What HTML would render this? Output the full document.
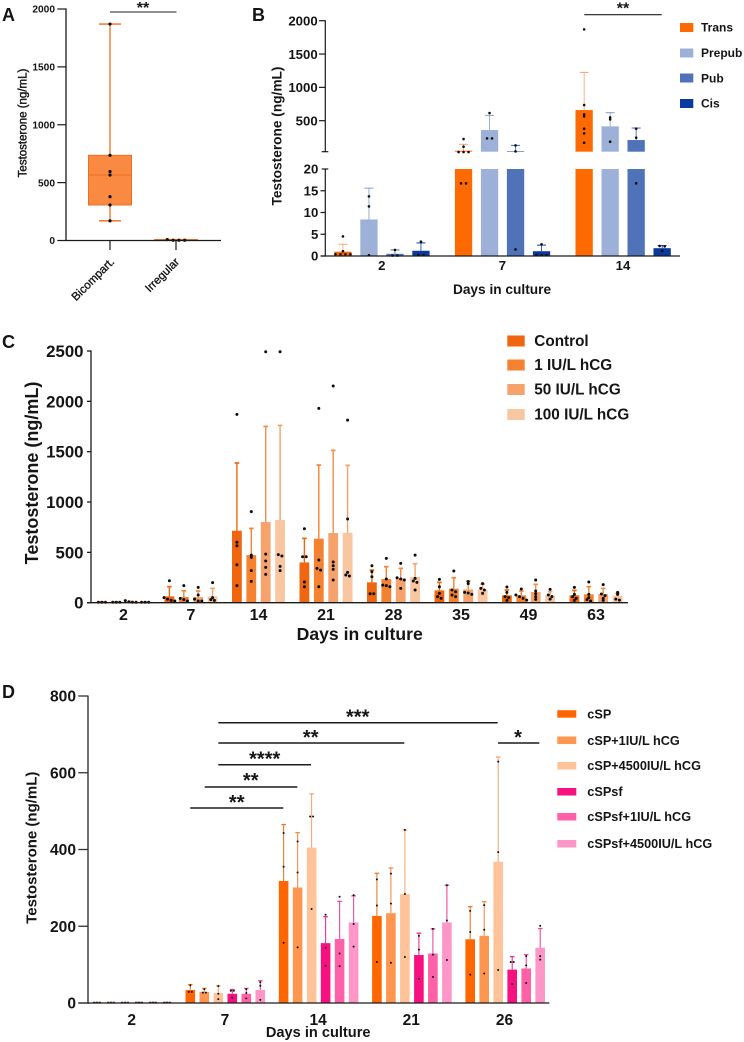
<!DOCTYPE html>
<html lang="en">
<head>
<meta charset="utf-8">
<title>Testosterone production panels</title>
<style>
html,body{margin:0;padding:0;background:#fff}
svg{display:block;font-family:"Liberation Sans",sans-serif}
text{fill:#151515}
.b{font-weight:700}
.sig{stroke:#1c1c1c;fill:none}
</style>
</head>
<body>
<svg id="fig" xmlns="http://www.w3.org/2000/svg" width="744" height="1042" viewBox="0 0 744 1042">
<rect x="0" y="0" width="744" height="1042" fill="#fff"/>

<g id="panelA">
<text class="b" x="2" y="21" font-size="18">A</text>
<text transform="translate(26.5,123) rotate(-90)" text-anchor="middle" font-size="11.5" stroke="#151515" stroke-width="0.4">Testosterone (ng/mL)</text>
<line class="sig" x1="110" y1="12" x2="176.5" y2="12" stroke-width="1"/>
<text class="b" x="143" y="13" text-anchor="middle" font-size="16">**</text>
</g>

<g id="panelB">
<text class="b" x="252" y="21" font-size="18">B</text>
<text class="b" transform="translate(281.5,136) rotate(-90)" text-anchor="middle" font-size="13.7">Testosterone (ng/mL)</text>
<text class="b" x="502" y="294" text-anchor="middle" font-size="13.7">Days in culture</text>
<line class="sig" x1="584.3" y1="14.7" x2="661.7" y2="14.7" stroke-width="1.1"/>
<text class="b" x="623" y="13.5" text-anchor="middle" font-size="16">**</text>
<rect x="680" y="23" width="13.3" height="9" fill="#FF6A00"/>
<text class="b" x="701" y="31.5" font-size="12">Trans</text>
<rect x="680" y="48.5" width="13.3" height="9" fill="#9DB0D8"/>
<text class="b" x="701" y="57" font-size="12">Prepub</text>
<rect x="680" y="73.5" width="13.3" height="9" fill="#4F72B8"/>
<text class="b" x="701" y="82.5" font-size="12">Pub</text>
<rect x="680" y="99" width="13.3" height="9" fill="#0A3A9E"/>
<text class="b" x="701" y="107.5" font-size="12">Cis</text>
</g>

<g id="panelC">
<text class="b" x="2" y="348" font-size="18">C</text>
<text class="b" transform="translate(38,473) rotate(-90)" text-anchor="middle" font-size="18">Testosterone (ng/mL)</text>
<text class="b" x="359.7" y="640" text-anchor="middle" font-size="17.6">Days in culture</text>
<rect x="507.3" y="335.5" width="17.4" height="11" fill="#F0650F"/>
<text class="b" x="534.3" y="346" font-size="15.3">Control</text>
<rect x="507.3" y="359.5" width="17.4" height="11" fill="#F58230"/>
<text class="b" x="534.3" y="370" font-size="15.3">1 IU/L hCG</text>
<rect x="507.3" y="384" width="17.4" height="11" fill="#F6A26C"/>
<text class="b" x="534.3" y="394.5" font-size="15.3">50 IU/L hCG</text>
<rect x="507.3" y="409" width="17.4" height="11" fill="#F9C6A2"/>
<text class="b" x="534.3" y="419.5" font-size="15.3">100 IU/L hCG</text>
</g>

<g id="panelD">
<text class="b" x="2" y="698" font-size="18">D</text>
<text class="b" transform="translate(36.5,847.7) rotate(-90)" text-anchor="middle" font-size="15">Testosterone (ng/mL)</text>
<text class="b" x="318.2" y="1037" text-anchor="middle" font-size="14.6">Days in culture</text>
<line class="sig" x1="218.3" y1="722.7" x2="497.7" y2="722.7" stroke-width="1.5"/>
<text class="b" x="357.7" y="723.5" text-anchor="middle" font-size="20">***</text>
<line class="sig" x1="218.3" y1="743" x2="404.3" y2="743" stroke-width="1.5"/>
<text class="b" x="310.7" y="744.2" text-anchor="middle" font-size="20">**</text>
<line class="sig" x1="498" y1="743" x2="539.3" y2="743" stroke-width="1.5"/>
<text class="b" x="518" y="744.2" text-anchor="middle" font-size="20">*</text>
<line class="sig" x1="218.3" y1="764.7" x2="311" y2="764.7" stroke-width="1.5"/>
<text class="b" x="264.7" y="765.5" text-anchor="middle" font-size="20">****</text>
<line class="sig" x1="204.7" y1="787" x2="297.3" y2="787" stroke-width="1.5"/>
<text class="b" x="250.7" y="787.2" text-anchor="middle" font-size="20">**</text>
<line class="sig" x1="190.3" y1="808" x2="283.3" y2="808" stroke-width="1.5"/>
<text class="b" x="236.7" y="808.9" text-anchor="middle" font-size="20">**</text>
<rect x="557.3" y="710.2" width="19" height="7.5" fill="#FF6600"/>
<text class="b" x="587.3" y="718.5" font-size="12.7">cSP</text>
<rect x="557.3" y="736.5" width="19" height="7.5" fill="#FF9650"/>
<text class="b" x="587.3" y="744.8" font-size="12.7">cSP+1IU/L hCG</text>
<rect x="557.3" y="762" width="19" height="7.5" fill="#FFC39A"/>
<text class="b" x="587.3" y="770.2" font-size="12.7">cSP+4500IU/L hCG</text>
<rect x="557.3" y="788" width="19" height="7.5" fill="#F7107F"/>
<text class="b" x="587.3" y="796.2" font-size="12.7">cSPsf</text>
<rect x="557.3" y="813" width="19" height="7.5" fill="#FF61A8"/>
<text class="b" x="587.3" y="821.2" font-size="12.7">cSPsf+1IU/L hCG</text>
<rect x="557.3" y="840" width="19" height="7.5" fill="#FF96C8"/>
<text class="b" x="587.3" y="848.2" font-size="12.7">cSPsf+4500IU/L hCG</text>
</g>
</svg>

<script>
/* ---------- Panel A data ---------- */
const aCategories = ['Bicompart.', 'Irregular'];
const aYTicks = [0, 500, 1000, 1500, 2000];
const aMins = [170, 2];
const aQ1s = [307, 2];
const aMedians = [566, 3];
const aQ3s = [736, 8];
const aMaxes = [1870, 8];
const aPoints = [[1870, 736, 596, 566, 378, 307, 170], [2, 8, 2, 2]];

/* ---------- Panel B data ---------- */
const bDays = ['2', '7', '14'];
const bLowerTicks = [0, 5, 10, 15, 20];
const bUpperTicks = [500, 1000, 1500, 2000];
const bTransMeans = [1, 50, 660];
const bPrepubMeans = [8.4, 360, 415];
const bPubMeans = [0.5, 45, 210];
const bCisMeans = [1.2, 1.1, 1.8];
const bTransErr = [2.7, 146, 1225];
const bPrepubErr = [15.6, 580, 620];
const bPubErr = [1.4, 130, 390];
const bCisErr = [3.0, 2.5, 2.4];
const bTransPts = [[4.5, 1.1, 0.4, 0.4, 0.4, 0.4], [225, 110, 30, 30, 30, 16.7, 16.7], [1870, 735, 595, 565, 380, 310, 170]];
const bPrepubPts = [[13.7, 11.4, 0.2], [615, 235, 235], [550, 520, 185]];
const bPubPts = [[1.4, 0.1, 0.1], [130, 40, 1.5], [380, 245, 16.7]];
const bCisPts = [[3.3, 0.2, 0.2], [2.7, 0.2, 0.2, 0.2], [2.3, 2.2, 1.2]];

/* ---------- Panel C data ---------- */
const cDays = ['2', '7', '14', '21', '28', '35', '49', '63'];
const cYTicks = [0, 500, 1000, 1500, 2000, 2500];
const cControlMeans = [5, 63, 715, 400, 202, 122, 73, 73];
const c1IUMeans = [5, 56, 473, 636, 235, 139, 73, 83];
const c50IUMeans = [8, 56, 801, 692, 242, 132, 106, 86];
const c100IUMeans = [5, 63, 821, 695, 255, 129, 73, 70];
const cControlErr = [8, 159, 1387, 639, 324, 202, 126, 122];
const c1IUErr = [8, 119, 738, 1367, 358, 248, 116, 159];
const c50IUErr = [12, 116, 1751, 1513, 341, 215, 182, 142];
const c100IUErr = [8, 142, 1761, 1364, 387, 185, 109, 93];
const cControlPts = [[4, 4, 4], [218, 50, 36, 23, 17], [1870, 600, 566, 377, 169], [735, 457, 457, 205, 159], [367, 308, 258, 89, 89], [232, 159, 93, 60, 43], [156, 103, 60, 50, 23], [152, 83, 60, 43, 23]];
const c1IUPts = [[4, 4, 4], [169, 43, 30, 17], [904, 473, 450, 318, 212], [1930, 424, 341, 324, 159], [440, 235, 175, 169, 159], [315, 126, 109, 76, 60], [136, 76, 60, 43, 26], [205, 83, 50, 30, 17]];
const c50IUPts = [[20, 10, 4, 4], [152, 76, 36, 17, 17], [2493, 483, 414, 351, 281], [2152, 404, 367, 331, 225], [391, 248, 235, 225, 142], [209, 189, 103, 96, 83], [225, 116, 89, 60, 33], [179, 86, 70, 43, 23]];
const c100IUPts = [[4, 4, 4], [199, 50, 30, 23], [2493, 477, 464, 361, 318], [1814, 831, 301, 275, 265], [473, 242, 215, 202, 126], [189, 142, 126, 93], [132, 76, 60, 36], [103, 83, 36, 26]];

/* ---------- Panel D data ---------- */
const dDays = ['2', '7', '14', '21', '26'];
const dYTicks = [0, 200, 400, 600, 800];
const dCspMeans = [1, 34, 318, 227, 166];
const dCsp1Means = [1, 29, 301, 234, 175];
const dCsp4500Means = [1, 26, 405, 284, 368];
const dSfMeans = [1, 24, 156, 125, 87];
const dSf1Means = [1, 24, 167, 129, 90];
const dSf4500Means = [1, 34, 210, 210, 144];
const dCspErr = [1.5, 48, 465, 338, 251];
const dCsp1Err = [1.5, 38, 444, 352, 264];
const dCsp4500Err = [1.5, 45, 545, 451, 641];
const dSfErr = [1.5, 35, 225, 182, 121];
const dSf1Err = [1.5, 38, 265, 193, 126];
const dSf4500Err = [1.5, 58, 279, 307, 194];
const dCspPts = [[1, 1, 1], [46, 29, 29], [443, 355, 157], [322, 254, 107], [240, 185, 74]];
const dCsp1Pts = [[1, 1, 1], [36, 27, 27], [421, 340, 145], [337, 259, 105], [255, 191, 77]];
const dCsp4500Pts = [[1, 1, 1], [44, 24, 10], [486, 486, 245], [451, 284, 120], [629, 393, 86]];
const dSfPts = [[1, 1, 1], [32, 32, 14], [230, 144, 97], [175, 139, 63], [107, 107, 49]];
const dSf1Pts = [[1, 1, 1], [36, 26, 12], [277, 129, 96], [193, 126, 68], [122, 98, 52]];
const dSf4500Pts = [[1, 1, 1], [54, 45, 8], [281, 206, 147], [307, 215, 112], [201, 122, 113]];

/* ---------- Drawing helpers ---------- */
const SVGNS = 'http://www.w3.org/2000/svg';
function el(tag, geom, parent) {
  const n = document.createElementNS(SVGNS, tag);
  for (const k in geom) n.setAttribute(k, geom[k]);
  parent.appendChild(n);
  return n;
}
function line(parent, x1, y1, x2, y2, color, w, name) {
  const n = el('line', {x1: x1, y1: y1, x2: x2, y2: y2, stroke: color, 'stroke-width': w}, parent);
  
  
  return n;
}
function label(parent, x, yCenter, str, size, anchor, name) {
  const n = el('text', {x: x, y: yCenter + size * 0.358, 'font-size': size, 'text-anchor': anchor, 'font-weight': 700}, parent);
  n.textContent = str;
  
  
  return n;
}
function barRect(parent, x, w, yTop, yBottom, color, name) {
  const n = el('rect', {x: x, y: yTop, width: w, height: Math.max(0, yBottom - yTop), fill: color}, parent);
  
  
  return n;
}
function errorBar(parent, cx, yMean, yTop, capHalf, color, w, name) {
  const g = el('g', {}, parent);
  
  
  el('line', {x1: cx, y1: yMean, x2: cx, y2: yTop, stroke: color, 'stroke-width': w}, g);
  el('line', {x1: cx - capHalf, y1: yTop, x2: cx + capHalf, y2: yTop, stroke: color, 'stroke-width': w * 1.2}, g);
}
/* Identical-height dots sit side by side, as in a scatter-dot plot. */
function dots(parent, values, cx, yFn, r, step, closeness, name) {
  const ys = values.map(yFn).sort(function (a, b) { return a - b; });
  let i = 0;
  while (i < ys.length) {
    let j = i;
    while (j + 1 < ys.length && ys[j + 1] - ys[j] < closeness) j++;
    const n = j - i + 1;
    for (let k = 0; k < n; k++) {
      const c = el('circle', {cx: cx + (k - (n - 1) / 2) * step, cy: ys[i + k], r: r, fill: '#0c0c0c'}, parent);
      
      
    }
    i = j + 1;
  }
}

/* ---------- Panel A ---------- */
(function () {
  const p = document.getElementById('panelA');
  const yA = function (v) { return 240.5 - v * 231.5 / 2000; };
  const xA = function (i) { return 110 + i * 66; };
  const edge = '#EE6E20';
  aCategories.forEach(function (cat, i) {
    const cx = xA(i);
    line(p, cx, yA(aMins[i]), cx, yA(aMaxes[i]), edge, 1.3, 'whisker-' + cat.toLowerCase());
    line(p, cx - 11, yA(aMaxes[i]), cx + 11, yA(aMaxes[i]), edge, 1.3, 'whisker-cap-top');
    line(p, cx - 11, yA(aMins[i]), cx + 11, yA(aMins[i]), edge, 1.3, 'whisker-cap-bottom');
    const box = el('rect', {x: cx - 21.5, y: yA(aQ3s[i]), width: 43, height: Math.max(1, yA(aQ1s[i]) - yA(aQ3s[i])), fill: '#FA8A42', stroke: edge, 'stroke-width': 1}, p);
    
    
    line(p, cx - 21.5, yA(aMedians[i]), cx + 21.5, yA(aMedians[i]), edge, 1, 'median-' + cat.toLowerCase());
    dots(p, aPoints[i], cx, yA, 1.6, 5.8, 2, 'data-point');
    line(p, cx, 240.5, cx, 250, '#1a1a1a', 1.2, 'x-tick');
  });
  line(p, 66, 8.4, 66, 241, '#1a1a1a', 1.3, 'panel-a-y-axis');
  line(p, 65.4, 240.5, 221, 240.5, '#1a1a1a', 1.3, 'panel-a-x-axis');
  aYTicks.forEach(function (t) {
    line(p, 57.3, yA(t), 66, yA(t), '#1a1a1a', 1.2, 'y-tick');
    label(p, 55, yA(t), String(t), 10.2, 'end', 'y-tick-label');
  });
  const catAnchors = [115, 180];
  aCategories.forEach(function (cat, i) {
    const t = el('text', {transform: 'translate(' + catAnchors[i] + ',262.5) rotate(-45)', 'text-anchor': 'end', 'font-size': 11.5, stroke: '#151515', 'stroke-width': 0.35}, p);
    t.textContent = cat;
    
    
  });
})();

/* ---------- Panel B ---------- */
(function () {
  const p = document.getElementById('panelB');
  const yB = function (v) {
    return v <= 20 ? 256 - v * 87 / 20 : 151.7 - (v - 35) * 131 / 1965;
  };
  const xB = function (g, s) { return 334.3 + g * 120.6 + s * 26; };
  const colors = ['#FF6A00', '#9DB0D8', '#4F72B8', '#0A3A9E'];
  const names = ['trans', 'prepub', 'pub', 'cis'];
  const means = [bTransMeans, bPrepubMeans, bPubMeans, bCisMeans];
  const errs = [bTransErr, bPrepubErr, bPubErr, bCisErr];
  const pts = [bTransPts, bPrepubPts, bPubPts, bCisPts];
  const errColors = ['#F4A06A', '#8398C8', '#3D5FA8', '#0A3A9E'];
  means.forEach(function (series, s) {
    series.forEach(function (m, g) {
      const x = xB(g, s), cx = x + 8.65;
      if (m > 20) {
        barRect(p, x, 17.3, yB(20), 256, colors[s], 'bar-' + names[s] + '-day' + bDays[g] + '-lower');
        barRect(p, x, 17.3, yB(m), 151.7, colors[s], 'bar-' + names[s] + '-day' + bDays[g] + '-upper');
      } else {
        barRect(p, x, 17.3, yB(m), 256, colors[s], 'bar-' + names[s] + '-day' + bDays[g]);
      }
      errorBar(p, cx, yB(m), yB(errs[s][g]), 4.5, errColors[s], 0.8, 'error-bar-' + names[s]);
      dots(p, pts[s][g], cx, yB, 1.3, 5, 2, 'data-point');
    });
  });
  line(p, 325.3, 20.3, 325.3, 151.7, '#1a1a1a', 1.2, 'panel-b-y-axis-upper');
  line(p, 325.3, 169, 325.3, 256.5, '#1a1a1a', 1.2, 'panel-b-y-axis-lower');
  line(p, 321.7, 151.7, 328.3, 151.7, '#1a1a1a', 1.2, 'axis-break-tick-upper');
  line(p, 321.7, 169, 328.3, 169, '#1a1a1a', 1.2, 'axis-break-tick-lower');
  line(p, 321, 256, 680, 256, '#1a1a1a', 1.2, 'panel-b-x-axis');
  bUpperTicks.forEach(function (t) {
    line(p, 319, yB(t), 325.3, yB(t), '#1a1a1a', 1.2, 'y-tick');
    label(p, 317.7, yB(t), String(t), 13.2, 'end', 'y-tick-label');
  });
  bLowerTicks.forEach(function (t) {
    if (t < 20) line(p, 320.5, yB(t), 325.3, yB(t), '#1a1a1a', 1.2, 'y-tick');
    label(p, 318.3, yB(t), String(t), 13.2, 'end', 'y-tick-label');
  });
  bDays.forEach(function (d, g) {
    label(p, xB(g, 0) + 47.5, 265.5, d, 13.2, 'middle', 'x-tick-label');
  });
})();

/* ---------- Panel C ---------- */
(function () {
  const p = document.getElementById('panelC');
  const yC = function (v) { return 602.7 - v * 251.7 / 2500; };
  const xC = function (g, s) { return 97 + g * 67.5 + s * 14.4; };
  const colors = ['#F0650F', '#F58230', '#F6A26C', '#F9C6A2'];
  const errColors = ['#F0650F', '#F58230', '#F58C48', '#F6A26C'];
  const names = ['control', '1iu', '50iu', '100iu'];
  const means = [cControlMeans, c1IUMeans, c50IUMeans, c100IUMeans];
  const errs = [cControlErr, c1IUErr, c50IUErr, c100IUErr];
  const pts = [cControlPts, c1IUPts, c50IUPts, c100IUPts];
  means.forEach(function (series, s) {
    series.forEach(function (m, g) {
      const x = xC(g, s), cx = x + 4.9;
      barRect(p, x, 9.8, yC(m), 602.7, colors[s], 'bar-' + names[s] + '-day' + cDays[g]);
      errorBar(p, cx, yC(m), yC(errs[s][g]), 2.3, errColors[s], 1.4, 'error-bar-' + names[s]);
      dots(p, pts[s][g], cx, yC, 1.5, 3.6, 2, 'data-point');
    });
  });
  line(p, 91, 350.4, 91, 603.3, '#1a1a1a', 1.3, 'panel-c-y-axis');
  line(p, 87, 602.7, 628, 602.7, '#1a1a1a', 1.3, 'panel-c-x-axis');
  cYTicks.forEach(function (t) {
    line(p, 87, yC(t), 91, yC(t), '#1a1a1a', 1.3, 'y-tick');
    label(p, 83.5, yC(t), String(t), 16.8, 'end', 'y-tick-label');
  });
  cDays.forEach(function (d, g) {
    label(p, 123.5 + g * 67.5, 614.5, d, 16, 'middle', 'x-tick-label');
  });
})();

/* ---------- Panel D ---------- */
(function () {
  const p = document.getElementById('panelD');
  const yD = function (v) { return 1003 - v * 307 / 800; };
  const xD = function (g, s) { return 92.2 + g * 93.3 + s * 14; };
  const colors = ['#FF6600', '#FF9650', '#FFC39A', '#F7107F', '#FF61A8', '#FF96C8'];
  const errColors = ['#EE7A2C', '#F28C4C', '#F6A878', '#E8308C', '#EC4C9C', '#EC4C9C'];
  const names = ['csp', 'csp-1iu', 'csp-4500iu', 'cspsf', 'cspsf-1iu', 'cspsf-4500iu'];
  const means = [dCspMeans, dCsp1Means, dCsp4500Means, dSfMeans, dSf1Means, dSf4500Means];
  const errs = [dCspErr, dCsp1Err, dCsp4500Err, dSfErr, dSf1Err, dSf4500Err];
  const pts = [dCspPts, dCsp1Pts, dCsp4500Pts, dSfPts, dSf1Pts, dSf4500Pts];
  means.forEach(function (series, s) {
    series.forEach(function (m, g) {
      const x = xD(g, s), cx = x + 4.8;
      barRect(p, x, 9.6, yD(m), 1003, colors[s], 'bar-' + names[s] + '-day' + dDays[g]);
      errorBar(p, cx, yD(m), yD(errs[s][g]), 2.3, errColors[s], 1.1, 'error-bar-' + names[s]);
      dots(p, pts[s][g], cx, yD, 1, 3, 1.2, 'data-point');
    });
  });
  line(p, 88, 695.5, 88, 1003.7, '#333', 1.4, 'panel-d-y-axis');
  line(p, 78.3, 1003, 549.3, 1003, '#1a1a1a', 1.3, 'panel-d-x-axis');
  dYTicks.forEach(function (t) {
    line(p, 78.3, yD(t), 88, yD(t), '#333', 1.3, 'y-tick');
    label(p, 76, yD(t), String(t), 15.6, 'end', 'y-tick-label');
  });
  dDays.forEach(function (d, g) {
    label(p, 131.7 + g * 93.2, 1019.3, d, 15.5, 'middle', 'x-tick-label');
  });
})();
</script>
</body>
</html>
